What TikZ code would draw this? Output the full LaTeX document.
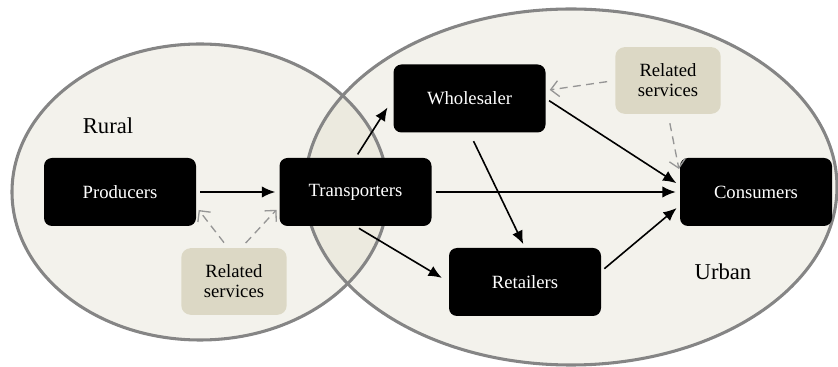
\documentclass[tikz,border=0pt]{standalone}
\usepackage{fontspec}
\setmainfont{Liberation Serif}
\usetikzlibrary{arrows.meta}
\definecolor{zonefill}{RGB}{222,219,200}
\definecolor{zoneline}{RGB}{133,133,133}
\definecolor{servfill}{RGB}{220,216,197}
\definecolor{servline}{RGB}{150,150,150}

\begin{document}
\begin{tikzpicture}[x=.75pt,y=.75pt,font=\fontsize{14}{16}\selectfont,
  actor/.style={fill=black,text=white,rounded corners=6pt,minimum width=114pt,minimum height=51pt,inner sep=1pt},
  serv/.style={fill=servfill,rounded corners=7pt,minimum width=79pt,minimum height=50pt,align=center,inner sep=1pt,font=\fontsize{14}{15}\selectfont},
  flow/.style={line width=1.2pt,-{Latex[length=10pt,width=8.5pt]},shorten <=3pt,shorten >=3pt},
  help/.style={servline,line width=1pt,dash pattern=on 6pt off 4pt,-{Straight Barb[length=6pt,width=12pt]},shorten >=3pt}]
\useasboundingbox (0,0) rectangle (838,367);
\fill[zonefill,fill opacity=.35] (200,175) ellipse [x radius=188,y radius=148];
\fill[zonefill,fill opacity=.35] (571,180) ellipse [x radius=266,y radius=178];
\draw[zoneline,line width=2.3pt] (200,175) ellipse [x radius=188,y radius=148];
\draw[zoneline,line width=2.3pt] (571,180) ellipse [x radius=266,y radius=178];
\node[font=\fontsize{17}{19}\selectfont] (rural) at (108,241) {Rural};
\node[font=\fontsize{17}{19}\selectfont] (urban) at (723,95) {Urban};
\node[actor] (prod) at (120,175) {Producers};
\node[actor] (trans) at (355.5,175) {Transporters};
\node[actor] (whole) at (469.5,268.5) {Wholesaler};
\node[actor] (ret) at (525,85) {Retailers};
\node[actor] (cons) at (756,175) {Consumers};
\node[serv] (relL) at (234,85.5) {Related\\services};
\node[serv] (relR) at (668,286.5) {Related\\services};
\draw[flow] (prod) -- (trans);
\draw[flow,shorten >=8pt] (trans.north) -- (whole.west);
\draw[flow] (trans) -- (cons);
\draw[flow,shorten >=6pt] (trans.south) -- (ret.west);
\draw[flow,shorten <=7pt] (whole.south) -- (ret.north);
\draw[flow] (whole.east) -- (cons.175);
\draw[flow] (ret.8) -- (cons.190);
\draw[help,shorten <=5pt] (relL.100) -- (prod.-11);
\draw[help,shorten <=5pt] (relL.78) -- (trans.191);
\draw[help,shorten <=6pt] (relR.west) -- (whole.6);
\draw[help,shorten <=7pt] (relR.south) -- (cons.166);
\end{tikzpicture}
\end{document}
